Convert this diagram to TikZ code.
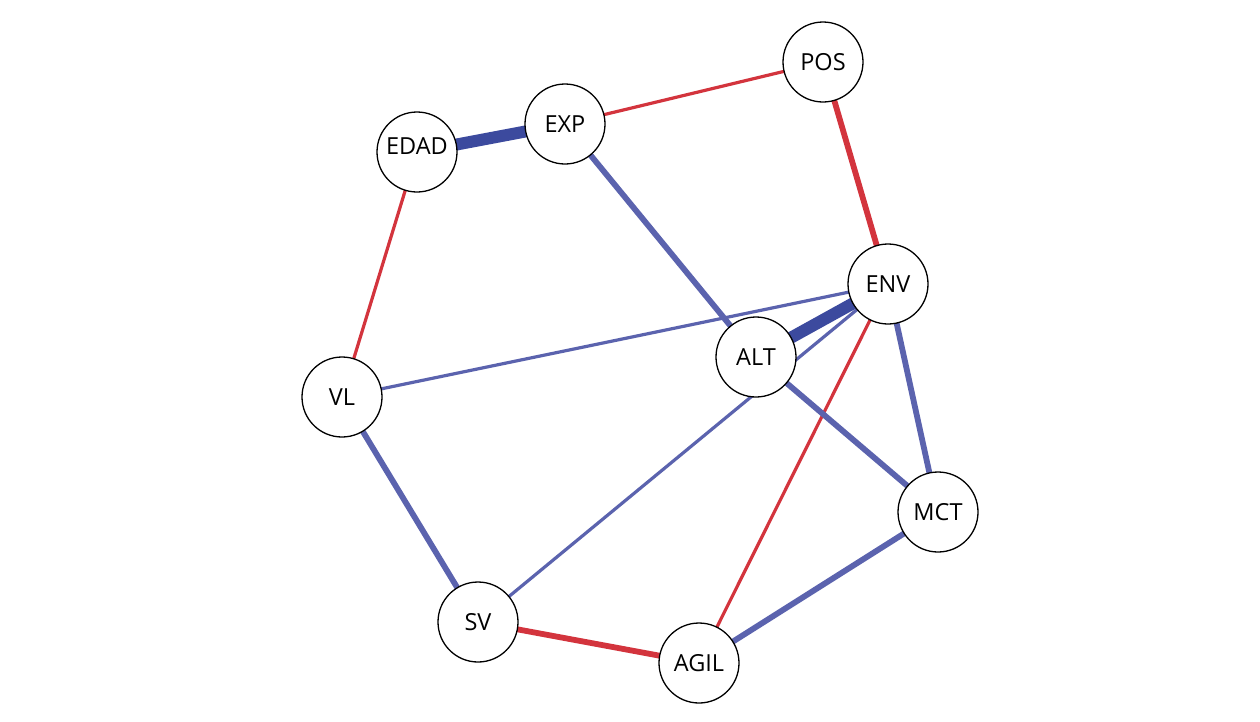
\documentclass[tikz,border=0pt]{standalone}
\usepackage{fontspec}
\setmainfont{Open Sans}
\usetikzlibrary{backgrounds}
\definecolor{eblue}{HTML}{5B63AE}
\definecolor{edark}{HTML}{3C4A9E}
\definecolor{ered}{HTML}{D3343D}
\tikzset{
  vnode/.style={circle, draw=black, line width=1.3pt, fill=white, minimum size=80pt, inner sep=0pt, font=\fontsize{23.5}{27}\selectfont},
  thinb/.style={draw=eblue, line width=3.2pt},
  medb/.style={draw=eblue, line width=5.8pt},
  thickb/.style={draw=edark, line width=12pt},
  thinr/.style={draw=ered, line width=3.2pt},
  medr/.style={draw=ered, line width=5.8pt},
}
\begin{document}
\begin{tikzpicture}[x=1pt, y=-1pt]
\useasboundingbox (0,0) rectangle (1260,721);
\node[vnode] (POS) at (823,62) {POS};
\node[vnode] (EXP) at (565,124) {EXP};
\node[vnode] (EDAD) at (417,152) {\raisebox{-2pt}[0pt][0pt]{EDAD}};
\node[vnode] (ENV) at (888,284) {ENV};
\node[vnode] (ALT) at (756,357) {ALT};
\node[vnode] (VL) at (342,397) {VL};
\node[vnode] (MCT) at (938,512) {MCT};
\node[vnode] (SV) at (478,622) {SV};
\node[vnode] (AGIL) at (699,663) {AGIL};
\begin{pgfonlayer}{background}
\draw[thinr] (EXP.center) -- (POS.center);
\draw[medr] (POS.center) -- (ENV.center);
\draw[thinr] (EDAD.center) -- (VL.center);
\draw[thinb] (VL.center) -- (ENV.center);
\draw[thinb] (SV.center) -- (ENV.center);
\draw[thinr] (AGIL.center) -- (ENV.center);
\draw[medb] (EXP.center) -- (ALT.center);
\draw[medb] (ALT.center) -- (MCT.center);
\draw[medb] (ENV.center) -- (MCT.center);
\draw[medb] (AGIL.center) -- (MCT.center);
\draw[medb] (VL.center) -- (SV.center);
\draw[medr] (SV.center) -- (AGIL.center);
\draw[thickb] (EDAD.center) -- (EXP.center);
\draw[thickb] (ALT.center) -- (ENV.center);
\end{pgfonlayer}
\end{tikzpicture}
\end{document}
